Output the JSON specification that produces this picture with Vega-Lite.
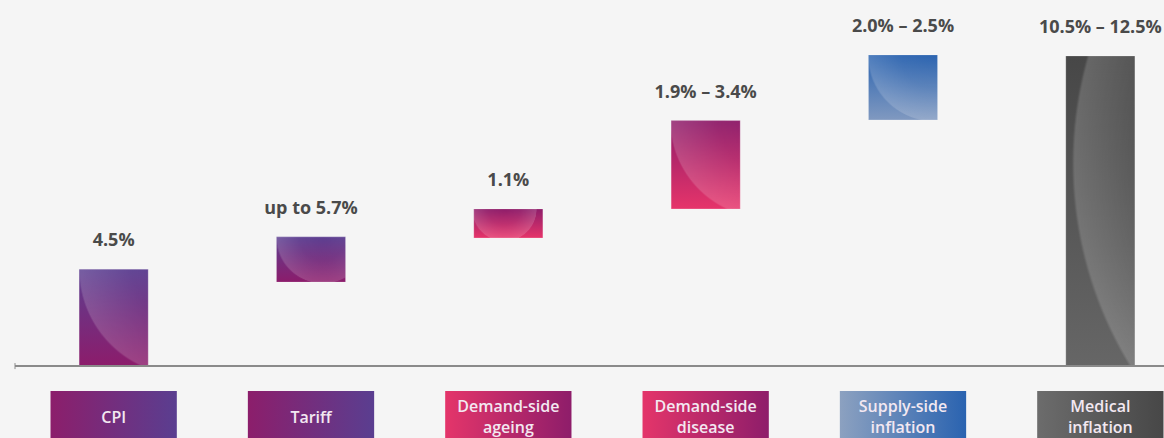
{
  "$schema": "https://vega.github.io/schema/vega-lite/v6.json",
  "width": 1184,
  "height": 438,
  "autosize": "none",
  "padding": {"left": 15, "top": 0, "right": 0, "bottom": 0},
  "background": "#f5f5f5",
  "config": {"view": {"stroke": null}},
  "data": {"values": [
    {"cat": "CPI", "grp": "purple", "lo": 0, "hi": 4.5, "val": "4.5%", "name": "CPI", "lines": 1},
    {"cat": "Tariff", "grp": "purple", "lo": 3.9, "hi": 6.0, "val": "up to 5.7%", "name": "Tariff", "lines": 1},
    {"cat": "Demand-side ageing", "grp": "pink", "lo": 5.95, "hi": 7.3, "val": "1.1%", "name": "Demand-side\nageing", "lines": 2},
    {"cat": "Demand-side disease", "grp": "pink", "lo": 7.3, "hi": 11.4, "val": "1.9% – 3.4%", "name": "Demand-side\ndisease", "lines": 2},
    {"cat": "Supply-side inflation", "grp": "blue", "lo": 11.43, "hi": 14.45, "val": "2.0% – 2.5%", "name": "Supply-side\ninflation", "lines": 2},
    {"cat": "Medical inflation", "grp": "gray", "lo": 0, "hi": 14.4, "val": "10.5% – 12.5%", "name": "Medical\ninflation", "lines": 2}
  ]},
  "layer": [
    {
      "transform": [{"filter": "datum.grp === 'purple'"}],
      "mark": {"type": "bar", "width": {"band": 0.35}, "color": {"gradient": "linear", "x1": 0, "y1": 0, "x2": 0, "y2": 1, "stops": [{"offset": 0, "color": "#5c3f91"}, {"offset": 1, "color": "#8c1c6b"}]}},
      "encoding": {
        "x": {"field": "cat", "type": "nominal", "sort": null, "axis": null, "scale": {"type": "band", "paddingInner": 0, "paddingOuter": 0, "domain": ["CPI", "Tariff", "Demand-side ageing", "Demand-side disease", "Supply-side inflation", "Medical inflation"]}},
        "y": {"field": "lo", "type": "quantitative", "axis": null, "scale": {"domain": [-3.34, 17], "nice": false, "zero": false}},
        "y2": {"field": "hi"}
      }
    },
    {
      "transform": [{"filter": "datum.grp === 'pink'"}],
      "mark": {"type": "bar", "width": {"band": 0.35}, "color": {"gradient": "linear", "x1": 0, "y1": 0, "x2": 0, "y2": 1, "stops": [{"offset": 0, "color": "#8e1d6a"}, {"offset": 1, "color": "#e6346a"}]}},
      "encoding": {"x": {"field": "cat", "type": "nominal", "sort": null}, "y": {"field": "lo", "type": "quantitative"}, "y2": {"field": "hi"}}
    },
    {
      "transform": [{"filter": "datum.grp === 'blue'"}],
      "mark": {"type": "bar", "width": {"band": 0.35}, "color": {"gradient": "linear", "x1": 0, "y1": 0, "x2": 0, "y2": 1, "stops": [{"offset": 0, "color": "#2c64b0"}, {"offset": 1, "color": "#8099c0"}]}},
      "encoding": {"x": {"field": "cat", "type": "nominal", "sort": null}, "y": {"field": "lo", "type": "quantitative"}, "y2": {"field": "hi"}}
    },
    {
      "transform": [{"filter": "datum.grp === 'gray'"}],
      "mark": {"type": "bar", "width": {"band": 0.35}, "color": {"gradient": "linear", "x1": 0, "y1": 0, "x2": 0, "y2": 1, "stops": [{"offset": 0, "color": "#474747"}, {"offset": 1, "color": "#666666"}]}},
      "encoding": {"x": {"field": "cat", "type": "nominal", "sort": null}, "y": {"field": "lo", "type": "quantitative"}, "y2": {"field": "hi"}}
    },
    {
      "transform": [{"filter": "datum.cat === 'CPI'"}],
      "mark": {"type": "bar", "width": {"band": 0.35}, "stroke": "#ffffff", "strokeOpacity": 0.2, "strokeWidth": 1, "color": {"gradient": "radial", "x1": 1.243, "y1": 0, "r1": 0, "x2": 1.243, "y2": 0, "r2": 1.105, "stops": [{"offset": 0, "color": "rgba(255,255,255,0)"}, {"offset": 0.5, "color": "rgba(255,255,255,0.04)"}, {"offset": 0.985, "color": "rgba(255,255,255,0.16)"}, {"offset": 1, "color": "rgba(255,255,255,0)"}]}},
      "encoding": {"x": {"field": "cat", "type": "nominal", "sort": null}, "y": {"field": "lo", "type": "quantitative"}, "y2": {"field": "hi"}}
    },
    {
      "transform": [{"filter": "datum.cat === 'Tariff'"}],
      "mark": {"type": "bar", "width": {"band": 0.35}, "stroke": "#ffffff", "strokeOpacity": 0.2, "strokeWidth": 1, "color": {"gradient": "radial", "x1": 0.672, "y1": 0.174, "r1": 0, "x2": 0.672, "y2": 0.174, "r2": 0.677, "stops": [{"offset": 0, "color": "rgba(255,255,255,0)"}, {"offset": 0.5, "color": "rgba(255,255,255,0.04)"}, {"offset": 0.985, "color": "rgba(255,255,255,0.16)"}, {"offset": 1, "color": "rgba(255,255,255,0)"}]}},
      "encoding": {"x": {"field": "cat", "type": "nominal", "sort": null}, "y": {"field": "lo", "type": "quantitative"}, "y2": {"field": "hi"}}
    },
    {
      "transform": [{"filter": "datum.cat === 'Demand-side ageing'"}],
      "mark": {"type": "bar", "width": {"band": 0.35}, "stroke": "#ffffff", "strokeOpacity": 0.2, "strokeWidth": 1, "color": {"gradient": "radial", "x1": 0.442, "y1": 0.29, "r1": 0, "x2": 0.442, "y2": 0.29, "r2": 0.47, "stops": [{"offset": 0, "color": "rgba(255,255,255,0)"}, {"offset": 0.5, "color": "rgba(255,255,255,0.04)"}, {"offset": 0.985, "color": "rgba(255,255,255,0.16)"}, {"offset": 1, "color": "rgba(255,255,255,0)"}]}},
      "encoding": {"x": {"field": "cat", "type": "nominal", "sort": null}, "y": {"field": "lo", "type": "quantitative"}, "y2": {"field": "hi"}}
    },
    {
      "transform": [{"filter": "datum.cat === 'Demand-side disease'"}],
      "mark": {"type": "bar", "width": {"band": 0.35}, "stroke": "#ffffff", "strokeOpacity": 0.2, "strokeWidth": 1, "color": {"gradient": "radial", "x1": 1.202, "y1": 0, "r1": 0, "x2": 1.202, "y2": 0, "r2": 1.109, "stops": [{"offset": 0, "color": "rgba(255,255,255,0)"}, {"offset": 0.5, "color": "rgba(255,255,255,0.04)"}, {"offset": 0.985, "color": "rgba(255,255,255,0.16)"}, {"offset": 1, "color": "rgba(255,255,255,0)"}]}},
      "encoding": {"x": {"field": "cat", "type": "nominal", "sort": null}, "y": {"field": "lo", "type": "quantitative"}, "y2": {"field": "hi"}}
    },
    {
      "transform": [{"filter": "datum.cat === 'Supply-side inflation'"}],
      "mark": {"type": "bar", "width": {"band": 0.35}, "stroke": "#ffffff", "strokeOpacity": 0.2, "strokeWidth": 1, "color": {"gradient": "radial", "x1": 0.955, "y1": 0.029, "r1": 0, "x2": 0.955, "y2": 0.029, "r2": 0.967, "stops": [{"offset": 0, "color": "rgba(255,255,255,0)"}, {"offset": 0.5, "color": "rgba(255,255,255,0.04)"}, {"offset": 0.985, "color": "rgba(255,255,255,0.16)"}, {"offset": 1, "color": "rgba(255,255,255,0)"}]}},
      "encoding": {"x": {"field": "cat", "type": "nominal", "sort": null}, "y": {"field": "lo", "type": "quantitative"}, "y2": {"field": "hi"}}
    },
    {
      "transform": [{"filter": "datum.cat === 'Medical inflation'"}],
      "mark": {"type": "bar", "width": {"band": 0.35}, "stroke": "#ffffff", "strokeOpacity": 0.2, "strokeWidth": 1, "color": {"gradient": "radial", "x1": 1.666, "y1": 0.345, "r1": 0, "x2": 1.666, "y2": 0.345, "r2": 1.258, "stops": [{"offset": 0, "color": "rgba(255,255,255,0)"}, {"offset": 0.78, "color": "rgba(255,255,255,0)"}, {"offset": 0.993, "color": "rgba(255,255,255,0.17)"}, {"offset": 1, "color": "rgba(255,255,255,0)"}]}},
      "encoding": {"x": {"field": "cat", "type": "nominal", "sort": null}, "y": {"field": "lo", "type": "quantitative"}, "y2": {"field": "hi"}}
    },
    {
      "data": {"values": [{}]},
      "mark": {"type": "rule", "color": "#8a8a8a", "strokeWidth": 2},
      "encoding": {"y": {"datum": 0, "type": "quantitative"}}
    },
    {
      "data": {"values": [{}]},
      "mark": {"type": "rule", "color": "#8a8a8a", "strokeWidth": 1},
      "encoding": {"x": {"datum": "CPI", "type": "nominal", "bandPosition": 0}, "y": {"datum": -0.14, "type": "quantitative"}, "y2": {"datum": 0.14}}
    },
    {
      "transform": [{"filter": "datum.grp === 'purple'"}],
      "mark": {"type": "bar", "width": {"band": 0.64}, "color": {"gradient": "linear", "x1": 0, "y1": 0, "x2": 1, "y2": 0, "stops": [{"offset": 0, "color": "#8c1e6b"}, {"offset": 1, "color": "#5a3e90"}]}},
      "encoding": {"x": {"field": "cat", "type": "nominal", "sort": null}, "y": {"datum": -1.16, "type": "quantitative"}, "y2": {"datum": -3.34}}
    },
    {
      "transform": [{"filter": "datum.grp === 'pink'"}],
      "mark": {"type": "bar", "width": {"band": 0.64}, "color": {"gradient": "linear", "x1": 0, "y1": 0, "x2": 1, "y2": 0, "stops": [{"offset": 0, "color": "#e4356a"}, {"offset": 1, "color": "#8e1d6a"}]}},
      "encoding": {"x": {"field": "cat", "type": "nominal", "sort": null}, "y": {"datum": -1.16, "type": "quantitative"}, "y2": {"datum": -3.34}}
    },
    {
      "transform": [{"filter": "datum.grp === 'blue'"}],
      "mark": {"type": "bar", "width": {"band": 0.64}, "color": {"gradient": "linear", "x1": 0, "y1": 0, "x2": 1, "y2": 0, "stops": [{"offset": 0, "color": "#8ca1c0"}, {"offset": 1, "color": "#2a63b0"}]}},
      "encoding": {"x": {"field": "cat", "type": "nominal", "sort": null}, "y": {"datum": -1.16, "type": "quantitative"}, "y2": {"datum": -3.34}}
    },
    {
      "transform": [{"filter": "datum.grp === 'gray'"}],
      "mark": {"type": "bar", "width": {"band": 0.64}, "color": {"gradient": "linear", "x1": 0, "y1": 0, "x2": 1, "y2": 0, "stops": [{"offset": 0, "color": "#6c6c6c"}, {"offset": 1, "color": "#474747"}]}},
      "encoding": {"x": {"field": "cat", "type": "nominal", "sort": null}, "y": {"datum": -1.16, "type": "quantitative"}, "y2": {"datum": -3.34}}
    },
    {
      "transform": [{"filter": "datum.lines === 1"}],
      "mark": {"type": "text", "font": "Open Sans", "fontSize": 16, "fontWeight": 600, "color": "#f3e8f1", "baseline": "middle", "align": "center", "dy": 1.5},
      "encoding": {"x": {"field": "cat", "type": "nominal", "sort": null}, "y": {"datum": -2.32, "type": "quantitative"}, "text": {"field": "name"}}
    },
    {
      "transform": [{"filter": "datum.lines === 2"}],
      "mark": {"type": "text", "font": "Open Sans", "fontSize": 16, "fontWeight": 600, "color": "#f3e8f1", "lineBreak": "\n", "lineHeight": 21, "baseline": "middle", "align": "center", "dy": -9.5},
      "encoding": {"x": {"field": "cat", "type": "nominal", "sort": null}, "y": {"datum": -2.32, "type": "quantitative"}, "text": {"field": "name"}}
    },
    {
      "mark": {"type": "text", "font": "Open Sans", "fontSize": 18, "fontWeight": "bold", "color": "#4a4a4a", "baseline": "middle", "align": "center", "dy": -28},
      "encoding": {"x": {"field": "cat", "type": "nominal", "sort": null}, "y": {"field": "hi", "type": "quantitative"}, "text": {"field": "val"}}
    }
  ]
}
